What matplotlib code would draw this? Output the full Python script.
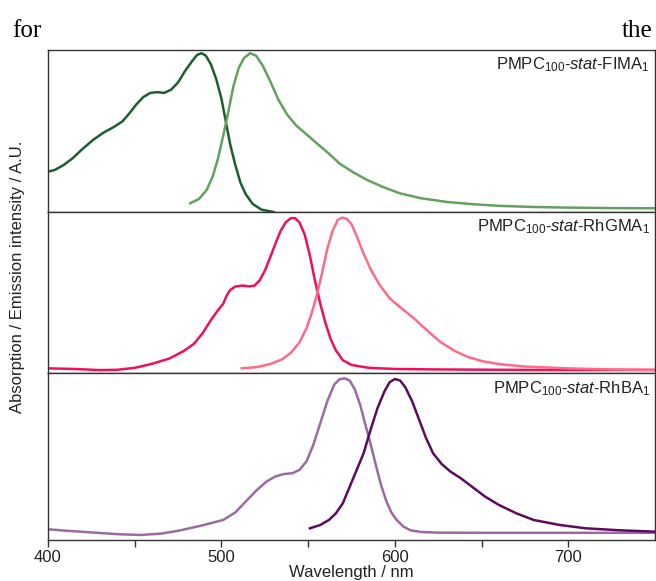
import matplotlib
matplotlib.use("Agg")
import matplotlib.pyplot as plt

plt.rcParams['font.family'] = ['Liberation Sans', 'DejaVu Sans']
plt.rcParams['mathtext.fontset'] = 'custom'
plt.rcParams['mathtext.rm'] = 'Liberation Sans'
plt.rcParams['mathtext.it'] = 'Liberation Sans:italic'

# FIMA panel (absorption, emission), normalised 0..1 to panel height
fima_abs_x = [400, 404, 409, 414, 420, 426, 432, 438, 443, 447, 451, 455, 459, 463, 467, 471, 475,
              479, 483, 486, 488.5, 491, 494, 497, 500, 502.5, 505, 508, 511, 514, 518, 523, 530]
fima_abs_y = [0.249, 0.26, 0.29, 0.33, 0.39, 0.445, 0.49, 0.525, 0.56, 0.61, 0.665, 0.71, 0.735, 0.74,
              0.735, 0.755, 0.80, 0.87, 0.93, 0.97, 0.98, 0.965, 0.91, 0.82, 0.70, 0.56, 0.42, 0.29,
              0.18, 0.11, 0.05, 0.015, 0.0]
fima_em_x = [482, 487, 491.5, 495, 498, 501, 504, 507, 510, 513, 516.5, 520, 524, 528, 533, 538, 543,
             549, 555, 562, 568, 576, 584, 593, 603, 615, 630, 645, 660, 680, 700, 725, 750]
fima_em_y = [0.054, 0.08, 0.136, 0.22, 0.33, 0.47, 0.62, 0.78, 0.89, 0.95, 0.98, 0.965, 0.90, 0.81,
             0.69, 0.60, 0.535, 0.48, 0.424, 0.36, 0.30, 0.245, 0.198, 0.155, 0.115, 0.085, 0.062,
             0.048, 0.038, 0.031, 0.027, 0.024, 0.023]

# RhGMA panel
rhg_abs_x = [400, 415, 430, 440, 450, 460, 470, 478, 484, 489, 494, 498, 501, 503, 505, 508, 512, 516,
             519, 522, 525, 528, 531, 534, 537, 540, 542.5, 545, 548, 551, 554, 557, 560, 563, 566,
             570, 575, 585, 600, 625, 680, 750]
rhg_abs_y = [0.029, 0.025, 0.018, 0.02, 0.032, 0.057, 0.09, 0.135, 0.18, 0.245, 0.33, 0.39, 0.43, 0.48,
             0.515, 0.537, 0.543, 0.538, 0.542, 0.575, 0.635, 0.715, 0.80, 0.88, 0.935, 0.962, 0.962,
             0.935, 0.86, 0.73, 0.57, 0.43, 0.31, 0.21, 0.14, 0.08, 0.05, 0.032, 0.025, 0.022, 0.019,
             0.019]
rhg_em_x = [511.7, 520, 528, 535, 540, 545, 549, 552, 555, 558, 561, 564, 567, 569.5, 572, 575, 578,
            582, 586, 591, 597, 604, 611, 618, 626, 634, 642, 651, 661, 675, 699, 725, 750]
rhg_em_y = [0.029, 0.036, 0.055, 0.085, 0.125, 0.19, 0.278, 0.37, 0.484, 0.62, 0.77, 0.88, 0.95, 0.965,
            0.96, 0.925, 0.85, 0.74, 0.645, 0.55, 0.464, 0.40, 0.34, 0.27, 0.195, 0.14, 0.10, 0.072,
            0.054, 0.04, 0.029, 0.022, 0.019]

# RhBA panel
rhb_abs_x = [400, 410, 424, 440, 453, 465, 475, 488, 501, 508, 514, 520, 526, 531, 536, 541, 545, 549,
             553, 557, 561, 565, 568, 571, 574, 577, 580, 583, 586, 589, 592, 595, 598, 601, 605, 609,
             615, 625, 650, 750]
rhb_abs_y = [0.064, 0.056, 0.046, 0.035, 0.03, 0.038, 0.055, 0.085, 0.12, 0.165, 0.23, 0.295, 0.35,
             0.38, 0.395, 0.40, 0.42, 0.47, 0.57, 0.70, 0.83, 0.93, 0.962, 0.968, 0.955, 0.90, 0.81,
             0.69, 0.575, 0.45, 0.33, 0.235, 0.165, 0.12, 0.08, 0.058, 0.048, 0.044, 0.043, 0.043]
rhb_em_x = [551, 557, 562, 566, 570, 574, 578, 582, 586, 590, 594, 597, 600, 603, 606, 610, 614, 618,
            622, 627, 632, 638, 645, 652, 660, 670, 680, 695, 710, 730, 750]
rhb_em_y = [0.07, 0.09, 0.12, 0.16, 0.22, 0.32, 0.42, 0.52, 0.66, 0.79, 0.89, 0.945, 0.964, 0.955,
            0.915, 0.83, 0.72, 0.61, 0.52, 0.455, 0.41, 0.37, 0.315, 0.26, 0.21, 0.16, 0.12, 0.09,
            0.07, 0.058, 0.05]

labels = ["PMPC$_{100}$-$\\mathit{stat}$-FIMA$_1$",
          "PMPC$_{100}$-$\\mathit{stat}$-RhGMA$_1$",
          "PMPC$_{100}$-$\\mathit{stat}$-RhBA$_1$"]
series = [
    (fima_abs_x, fima_abs_y, "#1c5e32", fima_em_x, fima_em_y, "#64a060"),
    (rhg_abs_x, rhg_abs_y, "#f0105a", rhg_em_x, rhg_em_y, "#ff6b86"),
    (rhb_abs_x, rhb_abs_y, "#9a6aa0", rhb_em_x, rhb_em_y, "#5a0c5e"),
]

W, H = 656, 581
fig = plt.figure(figsize=(W/100, H/100), dpi=100)
left, right = 48/W, 655/W
bounds = [(50, 212), (212, 373), (373, 540)]
axes = []
for (top, bot), lab, (ax_x, ax_y, c1, em_x, em_y, c2) in zip(bounds, labels, series):
    ax = fig.add_axes([left, 1-bot/H, right-left, (bot-top)/H])
    ax.plot(ax_x, ax_y, color=c1, lw=1.8, solid_joinstyle='round')
    ax.plot(em_x, em_y, color=c2, lw=1.8, solid_joinstyle='round')
    ax.set_xlim(400, 750)
    ax.set_ylim(0, 1)
    ax.set_yticks([])
    for s in ax.spines.values():
        s.set_color("#333333")
        s.set_linewidth(1.0)
    ax.text(0.992, 0.965, lab, transform=ax.transAxes, ha='right', va='top',
            fontsize=12, color="#222222")
    axes.append(ax)

for ax in axes[:-1]:
    ax.set_xticks([])
bx = axes[-1]
bx.set_xticks([400, 500, 600, 700])
bx.set_xticks([450, 550, 650], minor=True)
bx.tick_params(axis='x', which='both', direction='out', length=5, width=1,
               color="#333333", labelsize=12, labelcolor="#222222", pad=2)
bx.set_xlabel("Wavelength / nm", fontsize=12, color="#222222", labelpad=0)

fig.text(18/W, 1-277/H, "Absorption / Emission intensity / A.U.", rotation=90,
         ha='center', va='center', fontsize=12, color="#222222")

fig.text(12/W, 1-37/H, "for", fontsize=18, family="Liberation Serif", va='baseline')
fig.text(652/W, 1-37/H, "the", fontsize=18, family="Liberation Serif", va='baseline', ha='right')

fig.savefig("out.png", dpi=100)
